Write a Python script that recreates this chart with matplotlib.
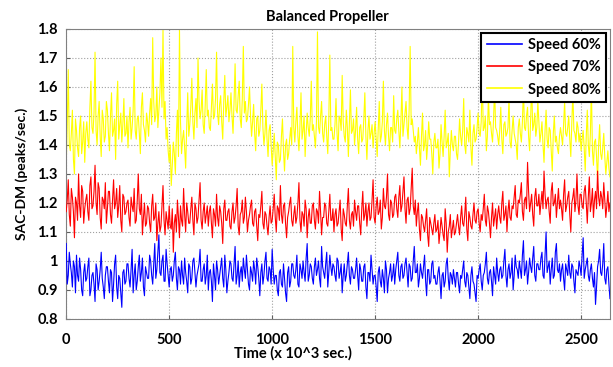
import numpy as np
import matplotlib; matplotlib.use('Agg'); import matplotlib.pyplot as plt
from matplotlib.ticker import FormatStrFormatter

plt.rcParams.update({'font.family': ['Lato', 'DejaVu Sans'], 'font.weight': 'bold', 'font.size': 10})

# read every 10 units of time (x 10^3 sec.) at 0, 10, 20, ...
speed60 = [
    1.06, 0.95, 0.99, 0.91, 0.98, 1.02, 0.93, 0.97, 0.88, 0.99,
    0.94, 1.01, 0.90, 0.96, 0.86, 0.97, 0.93, 1.03, 0.91, 0.95,
    0.98, 0.89, 0.96, 0.92, 1.02, 0.87, 0.94, 0.84, 0.97, 0.93,
    0.99, 0.91, 1.04, 0.95, 0.90, 0.98, 0.93, 1.01, 0.88, 0.96,
    0.94, 1.00, 0.92, 1.06, 0.97, 1.09, 0.95, 1.02, 0.93, 0.99,
    0.91, 0.98, 0.95, 1.03, 0.90, 0.97, 1.00, 0.92, 0.96, 0.89,
    0.98, 0.94, 1.01, 0.91, 0.97, 1.04, 0.93, 0.99, 0.95, 0.90,
    0.97, 0.86, 0.95, 1.00, 0.92, 0.98, 0.94, 1.02, 0.89, 0.96,
    0.99, 0.93, 1.05, 0.95, 0.91, 0.98, 1.01, 0.94, 0.97, 0.90,
    0.96, 1.00, 0.92, 0.98, 0.88, 0.99, 0.95, 1.03, 0.93, 0.97,
    1.04, 0.92, 0.95, 0.88, 0.97, 0.91, 0.94, 0.86, 0.98, 0.93,
    0.99, 0.94, 1.02, 0.91, 0.97, 1.00, 0.93, 1.06, 0.95, 0.98,
    0.92, 1.01, 0.97, 0.94, 1.05, 0.96, 0.99, 0.91, 1.02, 0.95,
    0.98, 0.93, 1.00, 0.96, 0.89, 0.99, 0.95, 1.03, 0.92, 0.97,
    0.94, 1.01, 0.90, 0.97, 0.93, 0.99, 0.87, 0.96, 1.02, 0.92,
    0.95, 0.86, 0.98, 0.91, 0.94, 1.00, 0.89, 0.96, 0.93, 0.99,
    0.97, 1.03, 0.93, 0.99, 0.95, 1.01, 0.91, 0.98, 0.94, 1.05,
    0.96, 0.91, 0.99, 0.94, 1.02, 0.88, 0.97, 0.93, 1.00, 0.95,
    0.92, 0.98, 0.87, 0.96, 0.93, 1.01, 0.90, 0.95, 0.97, 0.91,
    0.96, 0.89, 0.94, 1.00, 0.91, 0.95, 0.87, 0.98, 0.92, 0.86,
    0.94, 0.99, 0.90, 0.96, 1.03, 0.92, 0.97, 0.88, 0.95, 1.01,
    0.93, 0.98, 0.95, 1.04, 0.91, 0.99, 0.96, 0.90, 1.02, 0.97,
    1.00, 0.94, 1.07, 0.97, 0.92, 1.01, 0.96, 1.05, 0.93, 0.99,
    0.97, 1.03, 0.94, 1.10, 0.98, 0.92, 1.01, 0.95, 1.06, 0.96,
    0.93, 0.99, 0.90, 0.97, 1.02, 0.94, 0.98, 0.89, 0.96, 1.00,
    0.95, 1.08, 0.97, 1.01, 0.93, 0.99, 0.91, 0.85, 0.98, 1.04,
    0.95, 1.06, 0.92, 0.98, 0.87]
speed70 = [
    1.17, 1.28, 1.12, 1.22, 1.08, 1.20, 1.30, 1.15, 1.24, 1.18,
    1.23, 1.14, 1.29, 1.19, 1.33, 1.16, 1.25, 1.11, 1.21, 1.27,
    1.18, 1.24, 1.13, 1.28, 1.20, 1.15, 1.26, 1.10, 1.22, 1.17,
    1.21, 1.12, 1.19, 1.25, 1.14, 1.30, 1.16, 1.09, 1.20, 1.13,
    1.18, 1.10, 1.23, 1.15, 1.07, 1.17, 1.12, 1.26, 1.09, 1.14,
    1.19, 1.11, 1.03, 1.16, 1.21, 1.08, 1.14, 1.25, 1.10, 1.17,
    1.13, 1.22, 1.09, 1.18, 1.15, 1.27, 1.11, 1.20, 1.16, 1.12,
    1.19, 1.08, 1.16, 1.23, 1.12, 1.17, 1.06, 1.21, 1.14, 1.18,
    1.11, 1.20, 1.15, 1.25, 1.09, 1.17, 1.13, 1.22, 1.10, 1.16,
    1.21, 1.12, 1.18, 1.07, 1.15, 1.24, 1.11, 1.16, 1.09, 1.19,
    1.14, 1.23, 1.10, 1.18, 1.26, 1.13, 1.20, 1.08, 1.17, 1.22,
    1.12, 1.19, 1.15, 1.27, 1.10, 1.16, 1.21, 1.08, 1.18, 1.13,
    1.20, 1.11, 1.17, 1.24, 1.09, 1.15, 1.19, 1.12, 1.23, 1.14,
    1.10, 1.18, 1.13, 1.21, 1.07, 1.16, 1.12, 1.25, 1.11, 1.17,
    1.21, 1.14, 1.19, 1.09, 1.24, 1.16, 1.12, 1.20, 1.15, 1.28,
    1.13, 1.22, 1.17, 1.11, 1.25, 1.18, 1.30, 1.14, 1.20, 1.16,
    1.23, 1.15, 1.26, 1.19, 1.29, 1.13, 1.22, 1.18, 1.32, 1.16,
    1.12, 1.20, 1.07, 1.15, 1.10, 1.18, 1.05, 1.13, 1.09, 1.16,
    1.11, 1.06, 1.15, 1.09, 1.18, 1.03, 1.12, 1.08, 1.14, 1.10,
    1.16, 1.09, 1.19, 1.12, 1.22, 1.07, 1.15, 1.11, 1.20, 1.13,
    1.18, 1.10, 1.14, 1.23, 1.12, 1.17, 1.08, 1.20, 1.15, 1.11,
    1.19, 1.13, 1.24, 1.16, 1.10, 1.21, 1.14, 1.18, 1.26, 1.15,
    1.20, 1.27, 1.14, 1.22, 1.34, 1.17, 1.23, 1.12, 1.25, 1.19,
    1.16, 1.24, 1.31, 1.18, 1.22, 1.13, 1.27, 1.20, 1.15, 1.25,
    1.21, 1.14, 1.28, 1.19, 1.24, 1.10, 1.22, 1.17, 1.30, 1.16,
    1.23, 1.18, 1.26, 1.13, 1.29, 1.20, 1.15, 1.24, 1.31, 1.19,
    1.22, 1.27, 1.15, 1.24, 1.20]
speed80 = [
    1.33, 1.66, 1.38, 1.52, 1.30, 1.45, 1.36, 1.50, 1.41, 1.34,
    1.48, 1.39, 1.62, 1.44, 1.72, 1.40, 1.55, 1.36, 1.49, 1.43,
    1.52, 1.38, 1.58, 1.45, 1.35, 1.62, 1.47, 1.41, 1.56, 1.44,
    1.39, 1.53, 1.46, 1.67, 1.42, 1.50, 1.37, 1.58, 1.45, 1.51,
    1.43, 1.56, 1.77, 1.48, 1.60, 1.52, 1.70, 1.80, 1.55, 1.46,
    1.34, 1.26, 1.41, 1.30, 1.52, 1.80, 1.37, 1.45, 1.32, 1.58,
    1.47, 1.63, 1.42, 1.56, 1.70, 1.49, 1.59, 1.44, 1.66, 1.52,
    1.45, 1.61, 1.50, 1.72, 1.47, 1.57, 1.42, 1.64, 1.53, 1.48,
    1.58, 1.44, 1.68, 1.51, 1.62, 1.46, 1.74, 1.55, 1.49, 1.60,
    1.43, 1.54, 1.38, 1.50, 1.45, 1.61, 1.40, 1.52, 1.36, 1.47,
    1.33, 1.44, 1.28, 1.40, 1.35, 1.49, 1.31, 1.42, 1.37, 1.46,
    1.74, 1.41, 1.53, 1.38, 1.58, 1.45, 1.36, 1.51, 1.43, 1.62,
    1.47, 1.39, 1.79, 1.44, 1.55, 1.41, 1.50, 1.37, 1.71, 1.46,
    1.42, 1.56, 1.38, 1.49, 1.64, 1.43, 1.52, 1.36, 1.59, 1.45,
    1.40, 1.53, 1.37, 1.47, 1.42, 1.58, 1.35, 1.50, 1.44, 1.39,
    1.48, 1.36, 1.55, 1.43, 1.62, 1.40, 1.51, 1.38, 1.46, 1.57,
    1.44, 1.52, 1.39, 1.60, 1.47, 1.55, 1.42, 1.74, 1.49, 1.41,
    1.37, 1.46, 1.33, 1.51, 1.40, 1.35, 1.48, 1.42, 1.30, 1.44,
    1.39, 1.32, 1.47, 1.36, 1.52, 1.41, 1.29, 1.45, 1.38, 1.43,
    1.35, 1.49, 1.40, 1.56, 1.37, 1.44, 1.52, 1.33, 1.47, 1.42,
    1.51, 1.43, 1.65, 1.46, 1.38, 1.57, 1.48, 1.41, 1.60, 1.45,
    1.40, 1.53, 1.37, 1.48, 1.44, 1.56, 1.39, 1.50, 1.42, 1.35,
    1.49, 1.41, 1.60, 1.45, 1.53, 1.38, 1.62, 1.47, 1.43, 1.55,
    1.41, 1.48, 1.34, 1.52, 1.39, 1.45, 1.31, 1.50, 1.43, 1.37,
    1.46, 1.40, 1.55, 1.43, 1.50, 1.36, 1.58, 1.44, 1.48, 1.41,
    1.38, 1.45, 1.31, 1.52, 1.36, 1.60, 1.33, 1.42, 1.28, 1.47,
    1.35, 1.44, 1.30, 1.38, 1.29]

# in-between readings at 5, 15, 25, ...
speed60_mid = [
    0.92, 1.03, 0.96, 1.00, 0.89, 0.95, 1.01, 0.90, 0.96, 0.93,
    0.98, 0.88, 0.95, 0.92, 0.99, 0.90, 0.97, 0.94, 0.87, 0.98,
    0.93, 0.97, 0.86, 0.99, 0.91, 0.95, 0.89, 0.96, 0.92, 0.99,
    0.94, 0.97, 0.89, 0.99, 0.93, 1.02, 0.96, 0.91, 0.98, 0.94,
    1.02, 0.95, 0.99, 0.94, 1.03, 0.96, 1.00, 0.93, 1.04, 0.95,
    0.97, 0.93, 1.00, 0.94, 0.98, 0.92, 0.95, 1.01, 0.93, 0.99,
    0.92, 1.00, 0.96, 0.95, 0.99, 0.93, 0.97, 0.92, 1.02, 0.96,
    0.93, 0.99, 0.90, 0.97, 0.95, 1.01, 0.91, 0.97, 0.93, 1.00,
    0.94, 0.99, 0.92, 1.00, 0.96, 0.93, 0.97, 1.02, 0.92, 0.98,
    0.93, 0.97, 1.01, 0.94, 0.96, 0.92, 1.00, 0.94, 0.98, 0.92,
    0.97, 0.95, 0.90, 0.96, 0.92, 0.99, 0.89, 0.96, 0.91, 0.99,
    0.95, 0.97, 0.92, 0.99, 0.94, 0.96, 1.01, 0.93, 0.99, 0.94,
    0.98, 0.95, 1.00, 0.91, 0.98, 0.94, 1.03, 0.96, 0.98, 0.99,
    0.95, 1.01, 0.94, 0.99, 0.95, 0.93, 0.99, 0.95, 0.98, 0.94,
    0.97, 0.95, 0.99, 0.93, 0.98, 0.91, 0.96, 0.93, 0.97, 0.95,
    0.91, 0.96, 0.93, 0.97, 0.89, 0.97, 0.94, 0.99, 0.95, 0.92,
    1.00, 0.95, 0.98, 0.94, 0.99, 0.96, 0.99, 0.93, 1.00, 0.96,
    0.99, 0.94, 0.96, 0.98, 0.93, 0.97, 0.92, 0.99, 0.94, 0.92,
    0.96, 0.93, 0.95, 0.91, 0.99, 0.94, 0.96, 0.92, 0.94, 0.96,
    0.92, 0.95, 0.97, 0.93, 0.96, 0.91, 0.95, 0.93, 0.89, 0.95,
    0.97, 0.93, 0.95, 0.99, 0.94, 0.96, 0.93, 0.98, 0.92, 0.96,
    0.97, 0.94, 1.00, 0.95, 0.97, 0.94, 1.01, 0.95, 0.98, 0.94,
    0.97, 1.02, 0.95, 1.00, 0.96, 0.98, 1.01, 0.95, 0.99, 0.97,
    1.01, 0.95, 1.02, 0.96, 1.00, 0.97, 0.94, 1.03, 0.97, 0.99,
    0.97, 0.94, 0.99, 0.95, 0.96, 0.99, 0.93, 0.97, 0.95, 0.98,
    1.02, 0.94, 0.99, 0.95, 0.97, 0.94, 0.96, 0.91, 1.00, 0.96,
    0.99, 0.94, 0.97, 0.92]
speed70_mid = [
    1.21, 1.16, 1.25, 1.17, 1.22, 1.14, 1.19, 1.26, 1.13, 1.21,
    1.17, 1.26, 1.18, 1.24, 1.20, 1.27, 1.15, 1.22, 1.18, 1.13,
    1.24, 1.16, 1.21, 1.18, 1.25, 1.19, 1.14, 1.23, 1.16, 1.20,
    1.15, 1.22, 1.17, 1.13, 1.21, 1.18, 1.23, 1.15, 1.12, 1.19,
    1.13, 1.19, 1.14, 1.20, 1.13, 1.10, 1.19, 1.14, 1.17, 1.11,
    1.12, 1.18, 1.13, 1.10, 1.15, 1.19, 1.12, 1.16, 1.20, 1.13,
    1.18, 1.14, 1.20, 1.13, 1.21, 1.14, 1.17, 1.13, 1.19, 1.17,
    1.13, 1.18, 1.12, 1.15, 1.19, 1.13, 1.18, 1.14, 1.17, 1.12,
    1.17, 1.13, 1.19, 1.12, 1.16, 1.21, 1.15, 1.17, 1.14, 1.19,
    1.13, 1.17, 1.12, 1.16, 1.19, 1.13, 1.17, 1.12, 1.15, 1.13,
    1.18, 1.15, 1.19, 1.14, 1.16, 1.19, 1.13, 1.15, 1.20, 1.14,
    1.16, 1.13, 1.20, 1.14, 1.17, 1.12, 1.18, 1.15, 1.13, 1.19,
    1.14, 1.18, 1.13, 1.17, 1.15, 1.20, 1.13, 1.17, 1.14, 1.18,
    1.16, 1.12, 1.17, 1.11, 1.18, 1.13, 1.19, 1.14, 1.16, 1.12,
    1.17, 1.19, 1.13, 1.18, 1.14, 1.20, 1.17, 1.14, 1.21, 1.15,
    1.19, 1.16, 1.21, 1.15, 1.19, 1.22, 1.16, 1.21, 1.15, 1.22,
    1.18, 1.22, 1.17, 1.24, 1.18, 1.21, 1.16, 1.25, 1.19, 1.21,
    1.17, 1.11, 1.16, 1.12, 1.14, 1.09, 1.15, 1.11, 1.13, 1.10,
    1.14, 1.10, 1.12, 1.07, 1.13, 1.10, 1.16, 1.11, 1.09, 1.13,
    1.12, 1.15, 1.13, 1.16, 1.11, 1.17, 1.12, 1.16, 1.14, 1.17,
    1.13, 1.16, 1.18, 1.14, 1.19, 1.13, 1.15, 1.12, 1.18, 1.16,
    1.15, 1.20, 1.14, 1.19, 1.17, 1.15, 1.19, 1.22, 1.16, 1.21,
    1.23, 1.17, 1.21, 1.18, 1.24, 1.20, 1.16, 1.22, 1.19, 1.23,
    1.20, 1.18, 1.23, 1.21, 1.17, 1.24, 1.19, 1.23, 1.20, 1.18,
    1.18, 1.23, 1.17, 1.22, 1.16, 1.20, 1.25, 1.21, 1.19, 1.23,
    1.19, 1.24, 1.20, 1.22, 1.17, 1.25, 1.21, 1.18, 1.22, 1.24,
    1.18, 1.21, 1.19, 1.17]
speed80_mid = [
    1.47, 1.40, 1.44, 1.35, 1.49, 1.39, 1.46, 1.37, 1.48, 1.44,
    1.42, 1.53, 1.46, 1.51, 1.45, 1.50, 1.43, 1.52, 1.41, 1.55,
    1.44, 1.50, 1.43, 1.49, 1.54, 1.42, 1.51, 1.47, 1.43, 1.50,
    1.48, 1.42, 1.52, 1.45, 1.49, 1.44, 1.53, 1.47, 1.41, 1.48,
    1.51, 1.47, 1.55, 1.50, 1.46, 1.58, 1.53, 1.49, 1.42, 1.38,
    1.40, 1.33, 1.37, 1.44, 1.36, 1.48, 1.42, 1.39, 1.46, 1.43,
    1.53, 1.48, 1.51, 1.46, 1.55, 1.52, 1.47, 1.54, 1.50, 1.46,
    1.53, 1.49, 1.56, 1.51, 1.54, 1.48, 1.55, 1.50, 1.57, 1.52,
    1.50, 1.55, 1.52, 1.57, 1.49, 1.56, 1.51, 1.48, 1.54, 1.50,
    1.48, 1.44, 1.49, 1.43, 1.52, 1.46, 1.44, 1.42, 1.45, 1.40,
    1.38, 1.36, 1.41, 1.34, 1.43, 1.38, 1.40, 1.35, 1.42, 1.40,
    1.46, 1.48, 1.43, 1.47, 1.42, 1.50, 1.44, 1.46, 1.49, 1.45,
    1.43, 1.48, 1.46, 1.50, 1.44, 1.47, 1.43, 1.49, 1.45, 1.42,
    1.47, 1.44, 1.50, 1.45, 1.48, 1.41, 1.46, 1.48, 1.44, 1.49,
    1.45, 1.42, 1.46, 1.41, 1.49, 1.43, 1.45, 1.42, 1.47, 1.44,
    1.42, 1.46, 1.41, 1.48, 1.45, 1.47, 1.43, 1.46, 1.41, 1.45,
    1.49, 1.45, 1.48, 1.43, 1.51, 1.46, 1.52, 1.47, 1.45, 1.43,
    1.41, 1.39, 1.43, 1.38, 1.45, 1.40, 1.42, 1.37, 1.41, 1.39,
    1.42, 1.37, 1.41, 1.43, 1.39, 1.44, 1.38, 1.40, 1.43, 1.37,
    1.41, 1.43, 1.45, 1.40, 1.46, 1.41, 1.39, 1.44, 1.41, 1.46,
    1.44, 1.48, 1.45, 1.50, 1.43, 1.47, 1.44, 1.49, 1.46, 1.43,
    1.45, 1.42, 1.47, 1.43, 1.46, 1.41, 1.45, 1.44, 1.40, 1.46,
    1.44, 1.48, 1.46, 1.50, 1.43, 1.49, 1.45, 1.51, 1.46, 1.48,
    1.44, 1.40, 1.45, 1.42, 1.46, 1.38, 1.44, 1.41, 1.39, 1.43,
    1.43, 1.47, 1.44, 1.46, 1.42, 1.48, 1.45, 1.41, 1.46, 1.44,
    1.42, 1.39, 1.43, 1.40, 1.44, 1.38, 1.41, 1.36, 1.40, 1.37,
    1.39, 1.36, 1.34, 1.32]
labels = ['Speed 60%', 'Speed 70%', 'Speed 80%']

def merge(a, b):
    y = np.empty(len(a) + len(b)); y[0::2] = a; y[1::2] = b
    return y

time = np.arange(0, 2645, 5)
y60 = merge(speed60, speed60_mid)
y70 = merge(speed70, speed70_mid)
y80 = merge(speed80, speed80_mid)

fig = plt.figure(figsize=(6.13, 3.67), dpi=100)
ax = fig.add_axes([0.108, 0.131, 0.887, 0.790])
l3, = ax.plot(time, y80, color='#ffff00', lw=0.8, zorder=2)
l2, = ax.plot(time, y70, color='#ff0000', lw=0.8, zorder=3)
l1, = ax.plot(time, y60, color='#0000ff', lw=0.8, zorder=4)

ax.set_xlim(0, 2640); ax.set_ylim(0.8, 1.8)
ax.set_xticks([0, 500, 1000, 1500, 2000, 2500])
ax.set_yticks(np.arange(0.8, 1.81, 0.1))
ax.yaxis.set_major_formatter(FormatStrFormatter('%g'))
ax.grid(True, color='#a0a0a0', ls=':', lw=0.8)
ax.set_axisbelow(True)
ax.tick_params(direction='in', length=3, color='#606060', labelsize=10.5)
ax.tick_params(axis='x', pad=10)
ax.tick_params(axis='y', pad=6)
for s in ax.spines.values():
    s.set_color('#808080'); s.set_linewidth(0.8)
ax.set_title('Balanced Propeller', fontsize=10.5, fontweight='bold', x=0.48, pad=6)
ax.set_xlabel('Time (x 10^3 sec.)', fontsize=10.5, fontweight='bold')
ax.xaxis.set_label_coords(0.417, -0.095)
ax.set_ylabel('SAC-DM (peaks/sec.)', fontsize=10, fontweight='bold', labelpad=7)
leg = ax.legend([l1, l2, l3], labels, loc='upper right', fancybox=False, framealpha=1,
                edgecolor='black', fontsize=10.5, handlelength=2.4, borderaxespad=0.25,
                labelspacing=0.55, borderpad=0.4, handletextpad=0.4)
leg.get_frame().set_linewidth(1.5)
for h in leg.legend_handles:
    h.set_linewidth(1.2)
fig.savefig('out.png', dpi=100)
